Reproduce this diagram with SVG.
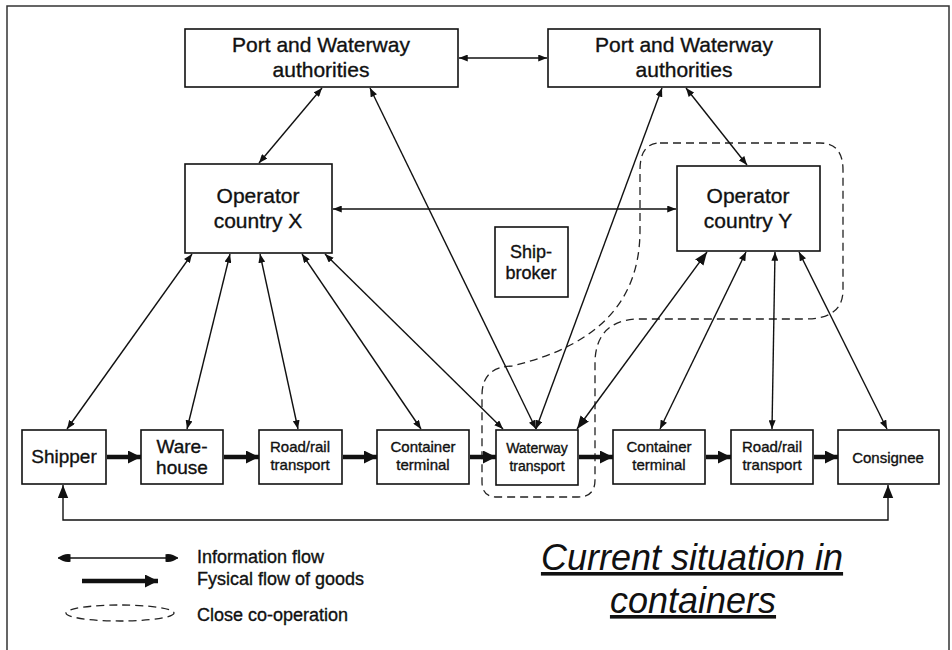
<svg xmlns="http://www.w3.org/2000/svg" width="952" height="650" viewBox="0 0 952 650">
<style>
.box{fill:#fff;stroke:#111;stroke-width:1.6}
.t{font-family:"Liberation Sans",Arial,sans-serif;fill:#111;stroke:#111;stroke-width:0.35;text-anchor:middle}
.big{font-size:21px}
.med{font-size:19px}
.sm{font-size:15px}
.info{stroke:#111;stroke-width:1.4;fill:none;marker-start:url(#ah);marker-end:url(#ah)}
.infoB{stroke:#111;stroke-width:1.4;fill:none;marker-start:url(#ahB);marker-end:url(#ahB)}
.phys{stroke:#111;stroke-width:4.5;fill:none;marker-end:url(#th)}
.dash{fill:none;stroke:#222;stroke-width:1.3;stroke-dasharray:8 5}
.leg{font-family:"Liberation Sans",Arial,sans-serif;font-size:18px;fill:#111;stroke:#111;stroke-width:0.35}
.title{font-family:"Liberation Sans",Arial,sans-serif;font-size:36px;font-style:italic;fill:#111;text-anchor:middle;text-decoration:underline}
</style>
<defs>
<marker id="ah" viewBox="0 0 10 8" refX="10" refY="4" markerWidth="9" markerHeight="7" markerUnits="userSpaceOnUse" orient="auto-start-reverse"><path d="M0,0 L10,4 L0,8 Z" fill="#111"/></marker>
<marker id="ahB" viewBox="0 0 10 8" refX="10" refY="4" markerWidth="13" markerHeight="11" markerUnits="userSpaceOnUse" orient="auto-start-reverse"><path d="M0,0 L10,4 L0,8 Z" fill="#111"/></marker>
<marker id="ahL" viewBox="0 0 10 8" refX="10" refY="4" markerWidth="13" markerHeight="10" markerUnits="userSpaceOnUse" orient="auto-start-reverse"><path d="M0,1 Q5,0 10,4 Q5,8 0,7 Z" fill="#111"/></marker>
<marker id="th" viewBox="0 0 12 12" refX="12" refY="6" markerWidth="13" markerHeight="13" markerUnits="userSpaceOnUse" orient="auto"><path d="M0,0 L12,6 L0,12 Z" fill="#111"/></marker>
</defs>
<rect width="952" height="650" fill="#fff"/>
<path d="M7,650 L7,6 L949,6 L949,650" fill="none" stroke="#333" stroke-width="1.5"/>

<g id="cooperation">
<path class="dash" d="M660,143 L820,143 Q843,143 843,170 L843,290 Q843,319 805,319 L635,319 Q597,322 595,360 L595,480 Q595,497 578,497 L497,497 Q482,497 482,482 L482,395 Q482,367 512,366 C600,345 640,300 640,230 L640,170 Q640,143 660,143 Z"/>
</g>

<g id="connectors">
<line class="info" x1="459" y1="58" x2="547" y2="58"/>
<line class="info" x1="322" y1="88" x2="259" y2="163"/>
<line class="info" x1="686" y1="88" x2="747" y2="165"/>
<line class="info" x1="333" y1="209" x2="676" y2="209"/>
<line class="info" x1="370" y1="88" x2="536" y2="429"/>
<line class="info" x1="662" y1="88" x2="536" y2="429"/>
<line class="info" x1="192" y1="254" x2="67" y2="429"/>
<line class="info" x1="230" y1="254" x2="187" y2="429"/>
<line class="info" x1="260" y1="254" x2="298" y2="429"/>
<line class="info" x1="302" y1="254" x2="421" y2="429"/>
<line class="info" x1="325" y1="254" x2="503" y2="429"/>
<line class="infoB" x1="707" y1="252" x2="577" y2="429"/>
<line class="info" x1="746" y1="252" x2="660" y2="429"/>
<line class="info" x1="775" y1="252" x2="772" y2="429"/>
<line class="info" x1="799" y1="252" x2="887" y2="429"/>
<polyline class="infoB" points="63,485 63,520 888,520 888,485"/>
<line class="phys" x1="107" y1="457" x2="141" y2="457"/>
<line class="phys" x1="224" y1="457" x2="259" y2="457"/>
<line class="phys" x1="343" y1="457" x2="377" y2="457"/>
<line class="phys" x1="470" y1="457" x2="496" y2="457"/>
<line class="phys" x1="579" y1="457" x2="613" y2="457"/>
<line class="phys" x1="706" y1="457" x2="731" y2="457"/>
<line class="phys" x1="814" y1="457" x2="838" y2="457"/>
</g>

<g id="port-x">
<rect class="box" x="185" y="29" width="273" height="58"/>
<text class="t big" x="321" y="52">Port and Waterway</text>
<text class="t big" x="321" y="77">authorities</text>
</g>
<g id="port-y">
<rect class="box" x="548" y="29" width="272" height="58"/>
<text class="t big" x="684" y="52">Port and Waterway</text>
<text class="t big" x="684" y="77">authorities</text>
</g>
<g id="operator-x">
<rect class="box" x="185" y="164" width="147" height="89"/>
<text class="t big" x="258" y="203">Operator</text>
<text class="t big" x="258" y="228">country X</text>
</g>
<g id="operator-y">
<rect class="box" x="677" y="166" width="143" height="85"/>
<text class="t big" x="748" y="203">Operator</text>
<text class="t big" x="748" y="228">country Y</text>
</g>
<g id="shipbroker">
<rect class="box" x="495" y="227" width="73" height="70"/>
<text class="t" style="font-size:18px" x="531" y="258">Ship-</text>
<text class="t" style="font-size:18px" x="531" y="279">broker</text>
</g>

<g id="shipper">
<rect class="box" x="22" y="430" width="84" height="54"/>
<text class="t med" x="64" y="463">Shipper</text>
</g>
<g id="warehouse">
<rect class="box" x="141" y="430" width="82" height="54"/>
<text class="t med" x="182" y="453">Ware-</text>
<text class="t med" x="182" y="474">house</text>
</g>
<g id="roadrail-1">
<rect class="box" x="259" y="430" width="83" height="54"/>
<text class="t sm" x="300" y="452">Road/rail</text>
<text class="t sm" x="300" y="470">transport</text>
</g>
<g id="container-1">
<rect class="box" x="377" y="430" width="92" height="54"/>
<text class="t sm" x="423" y="452">Container</text>
<text class="t sm" x="423" y="470">terminal</text>
</g>
<g id="waterway">
<rect class="box" x="496" y="430" width="82" height="55"/>
<text class="t" style="font-size:14px" x="537" y="453">Waterway</text>
<text class="t" style="font-size:14px" x="537" y="471">transport</text>
</g>
<g id="container-2">
<rect class="box" x="613" y="430" width="92" height="54"/>
<text class="t sm" x="659" y="452">Container</text>
<text class="t sm" x="659" y="470">terminal</text>
</g>
<g id="roadrail-2">
<rect class="box" x="731" y="430" width="82" height="54"/>
<text class="t sm" x="772" y="452">Road/rail</text>
<text class="t sm" x="772" y="470">transport</text>
</g>
<g id="consignee">
<rect class="box" x="838" y="430" width="101" height="54"/>
<text class="t sm" x="888" y="463">Consignee</text>
</g>

<g id="legend">
<line x1="58" y1="558" x2="178" y2="558" stroke="#111" stroke-width="1.4" marker-start="url(#ahL)" marker-end="url(#ahL)"/>
<text class="leg" x="197" y="563">Information flow</text>
<line class="phys" x1="82" y1="581" x2="158" y2="581"/>
<text class="leg" x="197" y="585">Fysical flow of goods</text>
<ellipse class="dash" cx="120" cy="613" rx="54" ry="8"/>
<text class="leg" x="197" y="621">Close co-operation</text>
</g>

<g id="title">
<text class="title" x="692" y="570">Current situation in</text>
<text class="title" x="693" y="613">containers</text>
</g>
</svg>
